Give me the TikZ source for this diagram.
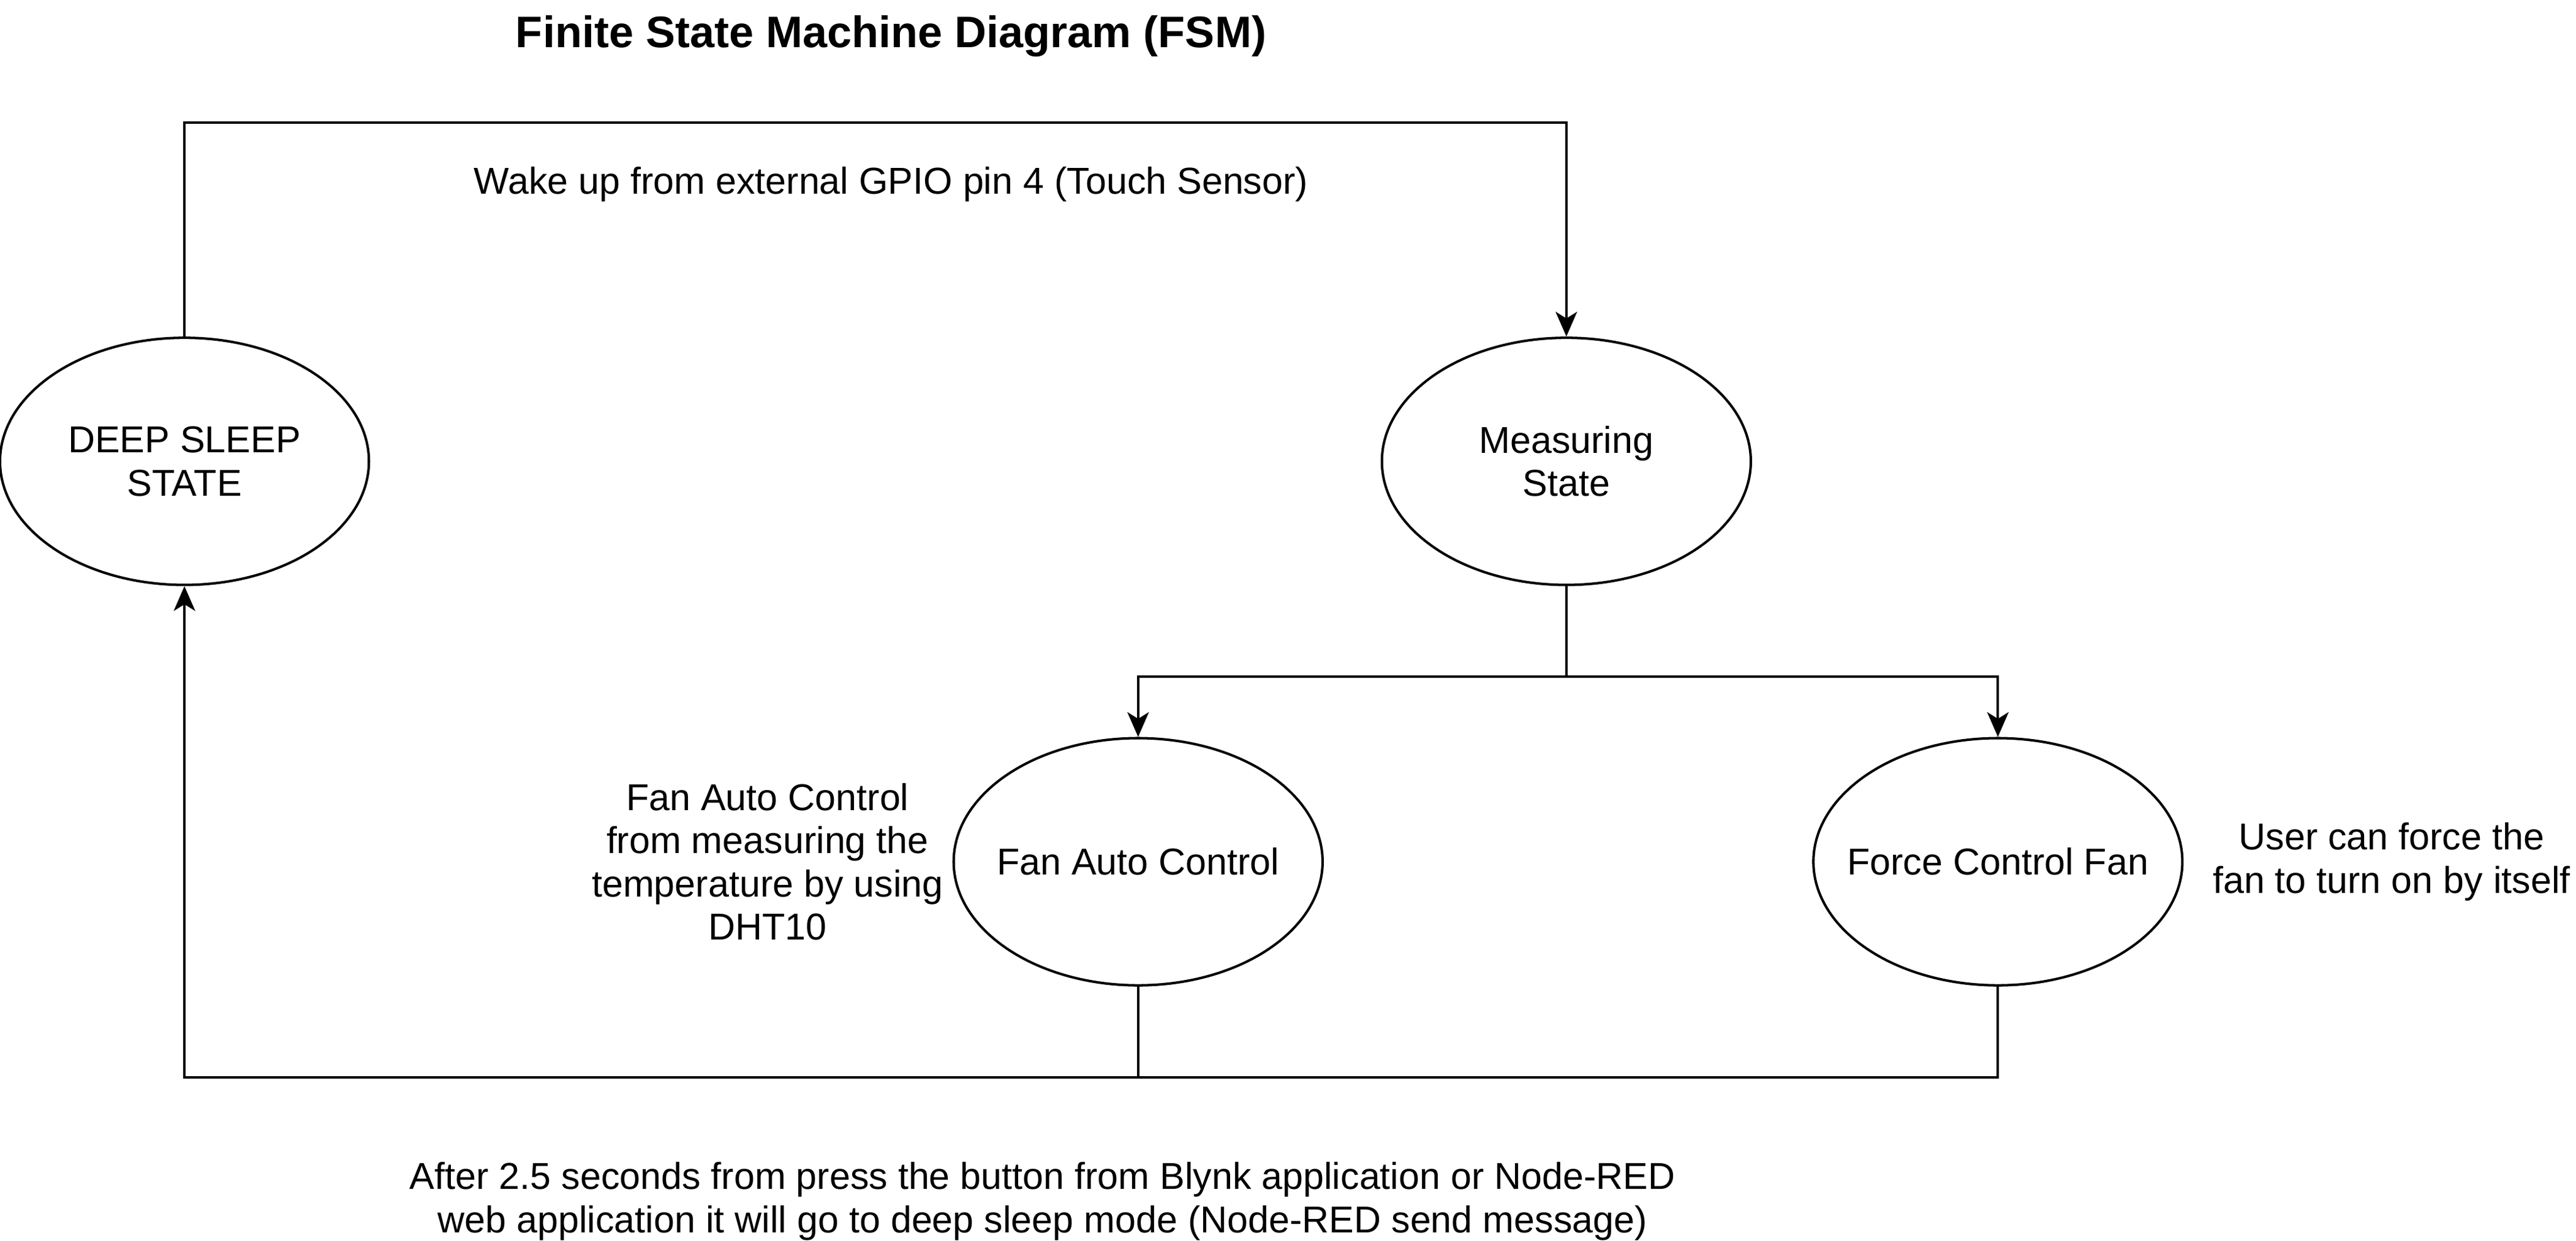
\documentclass[tikz,border=0pt]{standalone}
\usepackage{fontspec}
\setmainfont{Liberation Sans}
\usetikzlibrary{shapes.geometric,arrows.meta}
\begin{document}
\begin{tikzpicture}[x=0.5pt,y=-0.5pt,
    note/.style={align=center,font=\fontsize{11.35}{13.1}\selectfont},
    state/.style={draw,ellipse,line width=0.75pt,minimum width=112pt,minimum height=75pt,inner sep=0pt,label={[note]center:{#1}}},
    link/.style={line width=0.75pt},
    >={Stealth[length=7.5pt,width=6.5pt,inset=2pt]}]
  \useasboundingbox (0,0) rectangle (1564,753);
  \node[note,font=\bfseries\fontsize{13.4}{15}\selectfont] (title) at (541,22) {Finite State Machine Diagram (FSM)};
  \node[state={DEEP SLEEP\\STATE}] (sleep) at (112,280) {};
  \node[state={Measuring\\State}] (meas) at (951,280) {};
  \node[state={Fan Auto Control}] (auto) at (691,523) {};
  \node[state={Force Control Fan}] (force) at (1213,523) {};
  \node[note] (wake) at (541,112) {Wake up from external GPIO pin 4 (Touch Sensor)};
  \node[note] (autonote) at (466,523) {Fan Auto Control\\from measuring the\\temperature by using\\DHT10};
  \node[note] (forcenote) at (1452,523) {User can force the\\fan to turn on by itself};
  \node[note] (after) at (633,729) {After 2.5 seconds from press the button from Blynk application or Node-RED\\web application it will go to deep sleep mode (Node-RED send message)};
  \begin{scope}[link]
    \draw[->] (sleep.north) -- ++(0,-130) -| (meas.north);
    \draw[->] (meas.south) -- ++(0,55) -| (auto.north);
    \draw[->] (meas.south) -- ++(0,55) -| (force.north);
    \draw[->] (force.south) -- ++(0,55) -| (sleep.south);
    \draw (auto.south) -- ++(0,55);
  \end{scope}
\end{tikzpicture}
\end{document}
